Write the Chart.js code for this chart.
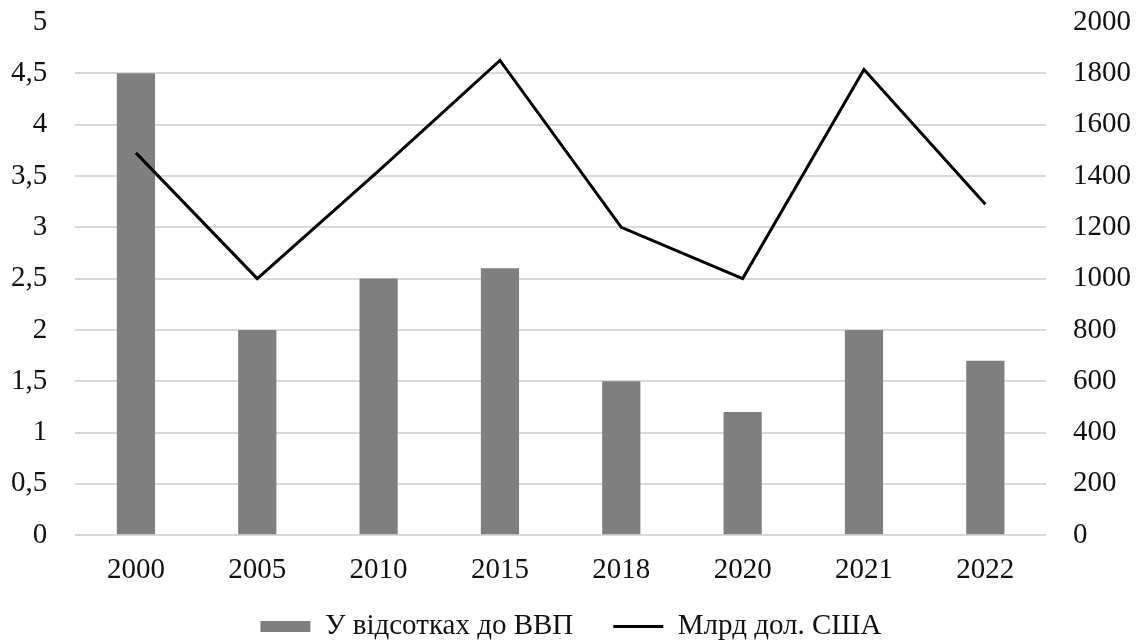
<!DOCTYPE html>
<html>
<head>
<meta charset="utf-8">
<script src="https://cdn.jsdelivr.net/npm/chart.js@4/dist/chart.umd.min.js"></script>
<style>
  html, body { margin: 0; padding: 0; background: #ffffff; }
  #wrap { width: 1137px; height: 641px; }
</style>
</head>
<body>
<div id="wrap"><canvas id="c" width="1137" height="641"></canvas></div>
<script>
// Years on the category axis
const years = ['2000', '2005', '2010', '2015', '2018', '2020', '2021', '2022'];
// Share of GDP, percent (left axis)
const shareOfGdp = [4.5, 2, 2.5, 2.6, 1.5, 1.2, 2, 1.7];
// Billions of US dollars (right axis)
const billionsUsd = [1490, 1000, 1420, 1850, 1200, 1000, 1815, 1290];
// Axis ranges and steps
const leftAxis = { min: 0, max: 5, step: 0.5 };
const rightAxis = { min: 0, max: 2000, step: 200 };

const FONT = "'Liberation Serif', 'Times New Roman', serif";
const TEXT = '#111111';
const GRID = '#d9d9d9';
const SIZE = 29;

// Value axes: keep only label width + gap, no extra vertical reserve
function trimValueAxis(scale) {
  scale.width -= scale.options.ticks.padding;
  scale.paddingTop = 0;
  scale.paddingBottom = 0;
}

// Category axis: tighter band under the plot, labels drawn unclipped
function trimCategoryAxis(scale) {
  scale.height -= 26;
  scale._computeLabelArea = () => undefined;
}

new Chart(document.getElementById('c'), {
  data: {
    labels: years,
    datasets: [
      {
        type: 'line',
        label: 'Млрд дол. США',
        data: billionsUsd,
        yAxisID: 'y2',
        borderColor: '#000000',
        backgroundColor: '#000000',
        borderWidth: 3,
        pointRadius: 0,
        tension: 0,
        pointStyle: 'line',
        order: 0
      },
      {
        type: 'bar',
        label: 'У відсотках до ВВП',
        data: shareOfGdp,
        yAxisID: 'y',
        backgroundColor: '#7f7f7f',
        borderWidth: 0,
        barPercentage: 1,
        categoryPercentage: 0.315,
        pointStyle: 'rect',
        order: 1
      }
    ]
  },
  options: {
    responsive: false,
    maintainAspectRatio: false,
    animation: false,
    layout: { padding: { top: 22, left: 11, right: 6, bottom: -10 } },
    scales: {
      x: {
        grid: { display: false },
        border: { display: false },
        ticks: { color: TEXT, font: { family: FONT, size: SIZE }, padding: 10 },
        afterFit: trimCategoryAxis
      },
      y: {
        position: 'left',
        min: leftAxis.min,
        max: leftAxis.max,
        border: { display: false },
        grid: {
          color: (ctx) => (ctx.tick && ctx.tick.value === leftAxis.max ? 'rgba(0,0,0,0)' : GRID),
          lineWidth: 2,
          drawTicks: false
        },
        ticks: {
          stepSize: leftAxis.step,
          color: TEXT,
          font: { family: FONT, size: SIZE },
          padding: 28,
          callback: (v) => String(v).replace('.', ',')
        },
        afterFit: trimValueAxis
      },
      y2: {
        position: 'right',
        min: rightAxis.min,
        max: rightAxis.max,
        border: { display: false },
        grid: { display: false, drawTicks: false },
        ticks: {
          stepSize: rightAxis.step,
          color: TEXT,
          font: { family: FONT, size: SIZE },
          padding: 27,
          callback: (v) => String(v)
        },
        afterFit: trimValueAxis
      }
    },
    plugins: {
      legend: {
        position: 'bottom',
        reverse: true,
        labels: {
          usePointStyle: true,
          pointStyleWidth: 50,
          boxHeight: 11,
          padding: 40,
          color: TEXT,
          font: { family: FONT, size: SIZE }
        }
      },
      tooltip: { enabled: false }
    }
  }
});
</script>
</body>
</html>
